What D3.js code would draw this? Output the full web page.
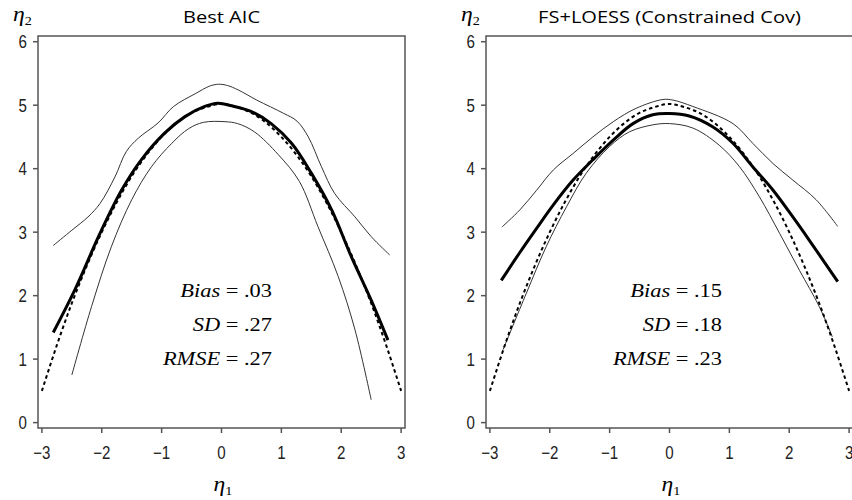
<!DOCTYPE html>
<html>
<head>
<meta charset="utf-8">
<script src="https://cdn.jsdelivr.net/npm/d3@7"></script>
<style>
body{margin:0;background:#fff;}
svg{display:block;}
</style>
</head>
<body>
<svg id="chart" width="852" height="500"></svg>
<script>
var xTicks = [-3,-2,-1,0,1,2,3];
var yTicks = [0,1,2,3,4,5,6];
var xTickLabels = ["\u22123","\u22122","\u22121","0","1","2","3"];

var trueCurve = [[-3,0.5],[-2.75,1.22],[-2.5,1.88],[-2.25,2.47],[-2,3.0],[-1.75,3.47],[-1.5,3.88],[-1.25,4.22],[-1,4.5],[-0.75,4.72],[-0.5,4.88],[-0.25,4.97],[0,5.02],[0.25,4.97],[0.5,4.88],[0.75,4.72],[1,4.5],[1.25,4.22],[1.5,3.88],[1.75,3.47],[2,3.0],[2.25,2.47],[2.5,1.88],[2.75,1.22],[3,0.5]];

var aicEst = [[-2.81,1.42],[-2.45,2.09],[-2.03,2.98],[-1.67,3.66],[-1.34,4.14],[-0.95,4.56],[-0.61,4.82],[-0.28,4.98],[-0.06,5.03],[0.17,4.99],[0.5,4.9],[0.83,4.71],[1.17,4.4],[1.5,3.93],[1.84,3.35],[2.17,2.61],[2.5,1.93],[2.78,1.3]];
var aicUpper = [[-2.81,2.79],[-2.5,3.03],[-2.23,3.24],[-2.03,3.45],[-1.78,3.87],[-1.59,4.27],[-1.39,4.48],[-1.06,4.72],[-0.8,4.98],[-0.44,5.18],[-0.2,5.3],[-0.05,5.33],[0.1,5.31],[0.28,5.24],[0.59,5.08],[1.04,4.87],[1.26,4.75],[1.45,4.5],[1.67,4.03],[1.89,3.61],[2.23,3.24],[2.5,2.93],[2.81,2.64]];
var aicLower = [[-2.5,0.75],[-2.17,1.83],[-1.84,2.77],[-1.5,3.51],[-1.17,4.03],[-0.83,4.4],[-0.55,4.63],[-0.3,4.73],[0.06,4.74],[0.27,4.71],[0.55,4.58],[0.95,4.22],[1.3,3.8],[1.61,3.09],[1.95,2.3],[2.23,1.46],[2.5,0.36]];

var loessEst = [[-2.81,2.24],[-2.5,2.68],[-2.22,3.06],[-1.94,3.43],[-1.61,3.82],[-1.28,4.14],[-0.94,4.45],[-0.61,4.71],[-0.28,4.85],[0,4.87],[0.33,4.83],[0.72,4.66],[1.06,4.4],[1.39,4.03],[1.73,3.66],[2.06,3.24],[2.33,2.88],[2.81,2.22]];
var loessUpper = [[-2.8,3.08],[-2.5,3.35],[-2.22,3.66],[-1.94,3.98],[-1.61,4.24],[-1.28,4.5],[-0.94,4.74],[-0.56,4.95],[-0.11,5.09],[0.06,5.08],[0.39,4.98],[1.06,4.71],[1.39,4.4],[1.73,4.08],[2.06,3.82],[2.45,3.51],[2.81,3.09]];
var loessLower = [[-2.78,1.15],[-2.39,2.04],[-2.06,2.77],[-1.72,3.4],[-1.39,3.93],[-1.0,4.35],[-0.67,4.58],[-0.28,4.69],[0,4.71],[0.39,4.64],[0.83,4.37],[1.17,4.03],[1.5,3.56],[1.84,2.98],[2.17,2.4],[2.5,1.83],[2.72,1.35]];

var titles = ["Best AIC","FS+LOESS (Constrained Cov)"];
var statNames = ["Bias","SD","RMSE"];
var aicStats = [".03",".27",".27"];
var loessStats = [".15",".18",".23"];

var panels = [
	{left:38, title:titles[0], est:aicEst, upper:aicUpper, lower:aicLower, stats:aicStats, statX:272},
	{left:486, title:titles[1], est:loessEst, upper:loessUpper, lower:loessLower, stats:loessStats, statX:722}
];

var svg = d3.select("#chart");
var plotTop = 36, plotBottom = 428, pw = 367;
var stretch = 1.18;

var y = d3.scaleLinear().domain([-0.085,6.09]).range([plotBottom,plotTop]);

panels.forEach(function(p){
	var x = d3.scaleLinear().domain([-3.065,3.065]).range([p.left,p.left+pw]);
	var g = svg.append("g");
	var line = d3.line()
		.x(function(d){return x(d[0]);})
		.y(function(d){return y(d[1]);})
		.curve(d3.curveCatmullRom);

	g.append("path").datum(p.upper).attr("d",line)
		.attr("fill","none").attr("stroke","#333").attr("stroke-width",1);
	g.append("path").datum(p.lower).attr("d",line)
		.attr("fill","none").attr("stroke","#333").attr("stroke-width",1);
	g.append("path").datum(trueCurve).attr("d",line)
		.attr("fill","none").attr("stroke","#000").attr("stroke-width",2)
		.attr("stroke-dasharray","3.5,3");
	g.append("path").datum(p.est).attr("d",line)
		.attr("fill","none").attr("stroke","#000").attr("stroke-width",3);

	// frame and ticks
	g.append("rect")
		.attr("x",p.left).attr("y",plotTop)
		.attr("width",pw).attr("height",plotBottom-plotTop)
		.attr("fill","none").attr("stroke","#555").attr("stroke-width",1.5);

	g.selectAll(".xt").data(xTicks).enter().append("line")
		.attr("x1",function(d){return x(d);}).attr("x2",function(d){return x(d);})
		.attr("y1",plotBottom).attr("y2",plotBottom+5)
		.attr("stroke","#555").attr("stroke-width",1.5);
	g.selectAll(".yt").data(yTicks).enter().append("line")
		.attr("x1",p.left-5).attr("x2",p.left)
		.attr("y1",function(d){return y(d);}).attr("y2",function(d){return y(d);})
		.attr("stroke","#555").attr("stroke-width",1.5);

	g.selectAll(".xl").data(xTicks).enter().append("text")
		.attr("transform",function(d){return "translate("+x(d)+","+(plotBottom+31)+") scale(0.84,1)";})
		.attr("text-anchor","middle")
		.attr("font-family","Liberation Sans, Arial, sans-serif")
		.attr("font-size",18)
		.attr("fill","#222")
		.text(function(d,i){return xTickLabels[i];});
	g.selectAll(".yl").data(yTicks).enter().append("text")
		.attr("transform",function(d){return "translate("+(p.left-11)+","+(y(d)+6.5)+") scale(0.84,1)";})
		.attr("text-anchor","end")
		.attr("font-family","Liberation Sans, Arial, sans-serif")
		.attr("font-size",18)
		.attr("fill","#222")
		.text(function(d){return d;});

	g.append("text")
		.attr("transform","translate("+x(0)+",23) scale("+stretch+",1)")
		.attr("text-anchor","middle")
		.attr("font-family","Open Sans, sans-serif")
		.attr("font-size",17)
		.attr("fill","#000")
		.text(p.title);

	var e2 = g.append("text")
		.attr("transform","translate("+(p.left-25)+",21) scale("+stretch+",1)")
		.attr("font-family","Liberation Serif, Times New Roman, serif")
		.attr("font-size",20);
	e2.append("tspan").attr("font-style","italic").text("\u03B7");
	e2.append("tspan").attr("font-size",12).attr("dy",4).text("2");

	var e1 = g.append("text")
		.attr("transform","translate("+(x(0)-8)+",491) scale("+stretch+",1)")
		.attr("font-family","Liberation Serif, Times New Roman, serif")
		.attr("font-size",20);
	e1.append("tspan").attr("font-style","italic").text("\u03B7");
	e1.append("tspan").attr("font-size",12).attr("dy",4).text("1");

	statNames.forEach(function(s,i){
		var t = g.append("text")
			.attr("transform","translate("+p.statX+","+(297+i*34)+") scale("+stretch+",1)")
			.attr("text-anchor","end")
			.attr("font-family","Liberation Serif, Times New Roman, serif")
			.attr("font-size",19)
			.attr("fill","#000");
		t.append("tspan").attr("font-style","italic").text(s);
		t.append("tspan").text(" = "+p.stats[i]);
	});
});
</script>
</body>
</html>
